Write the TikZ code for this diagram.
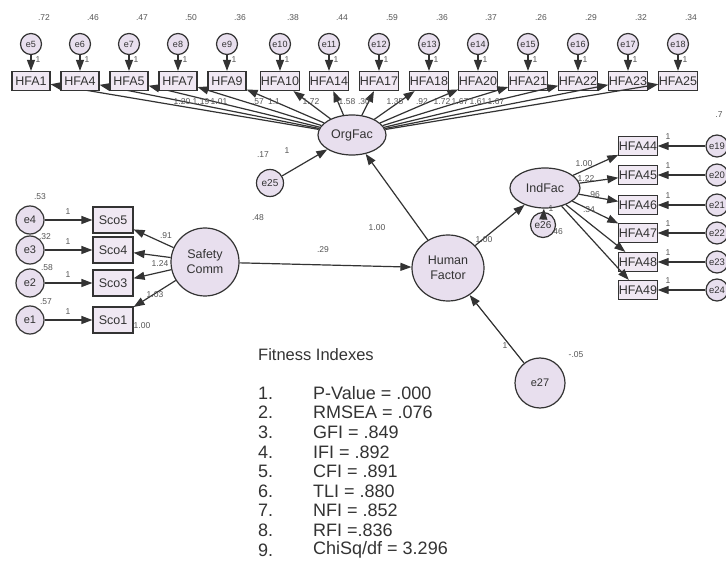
\documentclass[tikz,border=0pt]{standalone}
\usepackage{fontspec}
\setmainfont{Liberation Sans}
\usetikzlibrary{arrows.meta,shapes.geometric}
\definecolor{latfill}{HTML}{E8DFEE}
\definecolor{boxfill}{HTML}{F0E8F3}
\definecolor{ink}{HTML}{333333}
\definecolor{numc}{HTML}{555555}
\begin{document}
\begin{tikzpicture}[x=1pt,y=-1pt,
  obs/.style={draw=ink,fill=boxfill,rectangle,line width=1.2pt,minimum width=38pt,
    minimum height=19pt,inner sep=0pt,font=\fontsize{12.5}{12.5}\selectfont,text=ink},
  sco/.style={obs,minimum width=40pt,minimum height=26pt},
  lat/.style={draw=ink,fill=latfill,ellipse,line width=1.2pt,inner sep=0pt,
    font=\fontsize{12.5}{15}\selectfont,text=ink,align=center},
  errc/.style={draw=ink,fill=latfill,circle,line width=1.2pt,inner sep=0pt,text=ink},
  smallerr/.style={errc,minimum size=21pt,font=\fontsize{9}{9}\selectfont},
  miderr/.style={errc,minimum size=28pt,font=\fontsize{11}{11}\selectfont},
  num/.style={font=\fontsize{8.5}{8.5}\selectfont,text=numc,inner sep=0pt},
  fit/.style={font=\fontsize{18}{18}\selectfont,text=ink,anchor=west,inner sep=0pt},
  link/.style={draw=ink,line width=1.2pt,-{Triangle[length=11pt,width=8pt]}},
]
\fill[white] (0,0) rectangle (726,561);
\useasboundingbox (0,0) rectangle (726,561);

% latent factors
\node[lat,minimum width=68pt,minimum height=40pt] (org) at (352,135) {OrgFac};
\node[lat,minimum width=70pt,minimum height=40pt] (ind) at (545,188) {IndFac};
\node[lat,minimum width=72pt,minimum height=66pt] (hf) at (448,268) {Human\\Factor};
\node[lat,minimum width=68pt,minimum height=68pt] (sc) at (205,262) {Safety\\Comm};

% organisational indicators (top row)
\foreach \x/\bx/\e/\v [count=\i] in {
  31/HFA1/e5/.72, 80/HFA4/e6/.46, 129/HFA5/e7/.47, 178/HFA7/e8/.50,
  227/HFA9/e9/.36, 280/HFA10/e10/.38, 329/HFA14/e11/.44, 379/HFA17/e12/.59,
  429/HFA18/e13/.36, 478/HFA20/e14/.37, 528/HFA21/e15/.26, 578/HFA22/e16/.29,
  628/HFA23/e17/.32, 678/HFA25/e18/.34}{
  \node[smallerr] (te\i) at (\x,44) {\e};
  \node[obs] (t\i) at (\x,81) {\bx};
  \node[num] at (\x+13,18) {\v};
  \node[num] at (\x+7,60) {1};
  \draw[link] (te\i) -- (t\i);
  \draw[link] (org) -- (t\i);
}
\foreach \x/\w in {182/1.20, 201/1.19, 219/1.01, 258/.57, 274/1.1, 311/1.72,
  347/1.58, 364/.30, 395/1.35, 422/.92, 442/1.72, 460/1.67, 478/1.61, 496/1.67}{
  \node[num] at (\x,102) {\w};
}

% disturbance of OrgFac
\node[errc,minimum size=27pt,font=\fontsize{10}{10}\selectfont] (e25) at (270,183) {e25};
\draw[link] (e25) -- (org);
\node[num] at (263,155) {.17};
\node[num] at (287,151) {1};

% individual indicators (right column)
\foreach \y/\bx/\e [count=\i] in {146/HFA44/e19, 175/HFA45/e20, 205/HFA46/e21,
  233/HFA47/e22, 262/HFA48/e23, 290/HFA49/e24}{
  \node[obs] (r\i) at (638,\y) {\bx};
  \node[smallerr,minimum size=22pt,font=\fontsize{9.5}{9.5}\selectfont] (re\i) at (717,\y) {\e};
  \node[num] at (668,\y-9) {1};
  \draw[link] (re\i) -- (r\i);
  \draw[link] (ind) -- (r\i);
}
\node[num] at (719,115) {.7};
\node[num] at (584,164) {1.00};
\node[num] at (586,179) {1.22};
\node[num] at (594,195) {.96};
\node[num] at (589,210) {.34};

% disturbance of IndFac
\node[errc,minimum size=25pt,font=\fontsize{10}{10}\selectfont] (e26) at (543,225) {e26};
\draw[link] (e26) -- (ind);
\node[num] at (551,209) {1};
\node[num] at (557,232) {.46};

% safety communication indicators (left column)
\foreach \y/\bx/\e [count=\i] in {220/Sco5/e4, 250/Sco4/e3, 283/Sco3/e2, 320/Sco1/e1}{
  \node[sco] (s\i) at (113,\y) {\bx};
  \node[miderr] (se\i) at (30,\y) {\e};
  \node[num] at (68,\y-8) {1};
  \draw[link] (se\i) -- (s\i);
  \draw[link] (sc) -- (s\i);
}
\node[num] at (40,197) {.53};
\node[num] at (45,237) {.32};
\node[num] at (47,268) {.58};
\node[num] at (46,302) {.57};
\node[num] at (166,236) {.91};
\node[num] at (160,264) {1.24};
\node[num] at (155,295) {1.03};
\node[num] at (142,326) {1.00};
\node[num] at (258,218) {.48};

% structural paths
\draw[link] (sc) -- (hf);
\node[num] at (323,250) {.29};
\draw[link] (hf) -- (org);
\node[num] at (377,228) {1.00};
\draw[link] (hf) -- (ind);
\node[num] at (484,240) {1.00};

% disturbance of Human Factor
\node[errc,minimum size=50pt,font=\fontsize{11}{11}\selectfont] (e27) at (540,383) {e27};
\draw[link] (e27) -- (hf);
\node[num] at (505,346) {1};
\node[num] at (576,355) {-.05};

% fit indices
\node[fit,font=\fontsize{16.5}{16.5}\selectfont] (fitt) at (258,355) {Fitness Indexes};
\foreach \t [count=\i] in {P-Value = .000, RMSEA = .076, GFI = .849, IFI = .892,
  CFI = .891, TLI = .880, NFI = .852, RFI =.836, ChiSq/df = 3.296}{
  \node[fit] (fn\i) at (258,{373.5+19.6*\i}) {\i.};
  \node[fit] (fv\i) at (313,{373.5+19.6*\i}) {\t};
}
\end{tikzpicture}
\end{document}
